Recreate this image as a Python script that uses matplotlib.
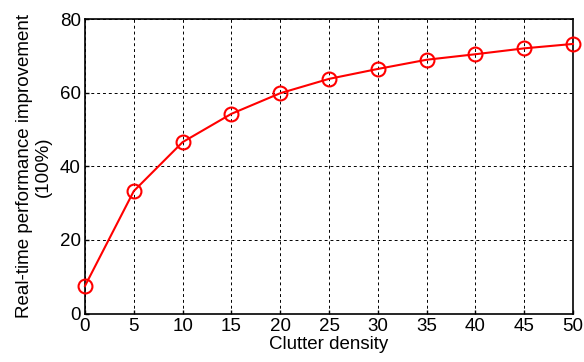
import matplotlib
matplotlib.use("Agg")
import matplotlib.pyplot as plt

plt.rcParams['font.family'] = ['Liberation Sans', 'DejaVu Sans']

density = [0, 5, 10, 15, 20, 25, 30, 35, 40, 45, 50]
improvement = [7.5, 33.3, 46.6, 54.3, 59.9, 63.8, 66.5, 69.0, 70.5, 72.1, 73.3]
xticks = [0, 5, 10, 15, 20, 25, 30, 35, 40, 45, 50]
yticks = [0, 20, 40, 60, 80]

fig = plt.figure(figsize=(5.84, 3.62), dpi=100)
ax = fig.add_axes([85/584, 1-313.5/362, (573-85)/584, (313.5-19.3)/362])
ax.plot(density, improvement, color='red', lw=1.5, marker='o', ms=10,
        mfc='none', mec='red', mew=1.5, clip_on=False, zorder=3)
ax.set_xlim(0, 50)
ax.set_ylim(0, 80)
ax.set_xticks(xticks)
ax.set_yticks(yticks)
ax.grid(True, color='black', linestyle=(0, (3, 3)), linewidth=0.7)
ax.tick_params(direction='in', length=3, labelsize=13.5, width=1, pad=3)
for s in ax.spines.values():
    s.set_linewidth(1.2)
ax.set_xlabel('Clutter density', fontsize=13.5, labelpad=1)
ax.set_ylabel('Real-time performance improvement\n(100%)', fontsize=13.5,
              labelpad=6, linespacing=1.1)
fig.savefig('out.png', dpi=100)
